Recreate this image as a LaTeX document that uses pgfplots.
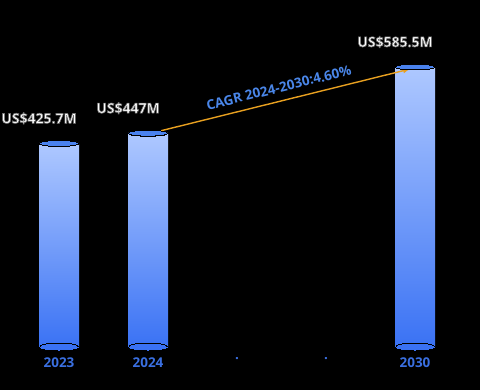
\documentclass[border=0pt]{standalone}
\usepackage{pgfplots}
\pgfplotsset{compat=1.18}
\usepackage{fontspec}
\setmainfont{Open Sans}
\definecolor{bartop}{HTML}{AEC8FF}
\definecolor{barbot}{HTML}{3A72F4}
\definecolor{captop}{HTML}{4A82EE}
\definecolor{tickblue}{HTML}{3A6FE0}
\definecolor{cagrblue}{HTML}{4A86E8}
\definecolor{arroworange}{HTML}{E8A020}
\newcommand{\outl}[1]{\special{pdf:literal direct 2 Tr 0.6 w 0.42 0.42 0.42 RG}#1\special{pdf:literal direct 0 Tr}}
\begin{document}
\begin{tikzpicture}
\begin{axis}[
  scale only axis, width=480pt, height=390pt,
  xmin=-0.663, xmax=4.730, ymin=-89.9, ymax=725.6,
  axis x line=middle, axis y line=none,
  x axis line style={draw=none},
  xtick={0,1,2,3,4}, xticklabels={2023,2024,.,.,2030},
  major tick length=0pt,
  xticklabel style={font=\bfseries\fontsize{13.5}{15}\selectfont, text=tickblue, yshift=-7pt},
  ytick=\empty,
  clip=false,
  axis background/.style={fill=black},
  mybar/.style={ybar, bar width=40pt, bar shift=0pt, draw=none, top color=bartop, bottom color=barbot},
]
\addplot[mybar] coordinates {(0,425.7)};
\addplot[mybar] coordinates {(1,447)};
\addplot[mybar] coordinates {(4,585.5)};
% bottom caps
\addplot[only marks, mark=*, mark size=20pt, mark options={yscale=0.2, fill=barbot, draw=none, line width=0pt}] coordinates {(0,0) (1,0) (4,0)};
% top caps
\addplot[only marks, mark=*, mark size=20pt, mark options={yscale=0.15, fill=captop, draw=none, line width=0pt}] coordinates {(0,425.7) (1,447) (4,585.5)};
% value labels
\addplot[only marks, mark=none,
  nodes near coords={\outl{\pgfplotspointmeta}}, point meta=explicit symbolic,
  every node near coord/.style={font=\bfseries\fontsize{14}{16}\selectfont, text=white, anchor=center, xshift=-20pt, yshift=25pt}]
  table[meta=label] {
x y label
0 425.7 US\$425.7M
1 447 US\$447M
4 585.5 US\$585.5M
};
\draw[arroworange, line width=1.4pt, -{latex}] (axis cs:1.135,451.7) -- (axis cs:3.944,581.3);
\node[text=cagrblue, font=\bfseries\fontsize{13.5}{15}\selectfont, rotate=13.9] at (axis cs:2.47,542) {CAGR 2024-2030:4.60\%};
\end{axis}
\pgfresetboundingbox
\path[use as bounding box] (current axis.south west) rectangle (current axis.north east);
\end{tikzpicture}
\end{document}
